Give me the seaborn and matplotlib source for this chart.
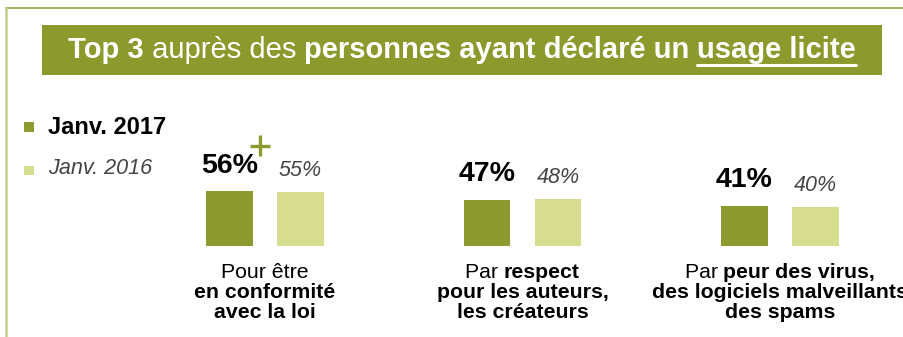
import matplotlib
matplotlib.use("Agg")
import matplotlib.pyplot as plt
from matplotlib.lines import Line2D
from matplotlib.patches import Rectangle
import pandas as pd
import seaborn as sns

# ---- data -------------------------------------------------------------
categories = ["Conformité", "Respect", "Virus"]
series = ["Janv. 2017", "Janv. 2016"]
values_2017 = [56, 47, 41]
values_2016 = [55, 48, 40]

cat_lines = [
    [[("Pour être", "normal")],
     [("en conformité", "bold")],
     [("avec la loi", "bold")]],
    [[("Par ", "normal"), ("respect", "bold")],
     [("pour les auteurs,", "bold")],
     [("les créateurs", "bold")]],
    [[("Par ", "normal"), ("peur des virus,", "bold")],
     [("des logiciels malveillants", "bold")],
     [("des spams", "bold")]],
]

title_runs = [("Top 3", "bold", False), (" auprès des ", "normal", False),
              ("personnes ayant déclaré un ", "bold", False),
              ("usage licite", "bold", True)]

# ---- style ------------------------------------------------------------
DARK = "#8d9a2f"
LIGHT = "#d6dd8f"
BANNER = "#8c9a2d"
FRAME_TOP = "#93a23a"
FRAME_LEFT = "#c4cf8c"
GREY = "#444444"

sns.set_theme(style="white")
plt.rcParams["font.family"] = ["Liberation Sans", "DejaVu Sans"]

W, H = 904, 337
fig = plt.figure(figsize=(W / 100, H / 100), dpi=100)
fig.patch.set_facecolor("white")


def fx(px):
    return px / W


def fy(py):
    return 1 - py / H


# ---- bars -------------------------------------------------------------
df = pd.DataFrame({
    "cat": categories * 2,
    "serie": [series[0]] * 3 + [series[1]] * 3,
    "val": values_2017 + values_2016,
})

ax = fig.add_axes([0, 0, 1, 1])
sns.barplot(data=df, x="cat", y="val", hue="serie", order=categories,
            hue_order=series, palette=[DARK, LIGHT], width=0.552, gap=0.35,
            saturation=1, legend=False, ax=ax, linewidth=0)

# pixel mapping: group 0 centred at x=265 px, groups 257.5 px apart;
# baseline at y=245.7 px, 0.973 px per percentage point
X0, DX = 265.0, 257.5
Y0, DY = 245.7, 0.973
ax.set_xlim(-X0 / DX, (W - X0) / DX)
ax.set_ylim(-(H - Y0) / DY, Y0 / DY)
ax.axis("off")

off = 0.552 / 4
for i in range(len(categories)):
    v17, v16 = values_2017[i], values_2016[i]
    ax.text(i - off, v17 + 18.5 / DY, f"{v17}%", ha="center", va="baseline",
            fontsize=20.5, fontweight="bold", color="black")
    ax.text(i + off, v16 + 15.8 / DY, f"{v16}%", ha="center", va="baseline",
            fontsize=15.5, fontstyle="italic", color=GREY)

# significant increase marker next to the first value
pcx, pcy, arm = 260, 145.5, 10.5
for (x1, y1, x2, y2) in [(pcx - arm, pcy, pcx + arm, pcy),
                         (pcx, pcy - arm, pcx, pcy + arm)]:
    fig.add_artist(Line2D([fx(x1), fx(x2)], [fy(y1), fy(y2)],
                          color=DARK, lw=2.4, solid_capstyle="butt"))

# ---- frame ------------------------------------------------------------
fig.add_artist(Line2D([fx(6), fx(W)], [fy(8), fy(8)], color=FRAME_TOP, lw=1.2))
fig.add_artist(Line2D([fx(6.5), fx(6.5)], [fy(8), fy(H)], color=FRAME_LEFT, lw=1.8))

# ---- title banner -----------------------------------------------------
fig.add_artist(Rectangle((fx(42), fy(75)), fx(882) - fx(42), fy(25) - fy(75),
                         transform=fig.transFigure, facecolor=BANNER,
                         edgecolor="none"))

renderer = fig.canvas.get_renderer()


def rich_line(cx, cy, runs, size, color, ul_gap=13):
    """Lay out runs of differently weighted text centred on (cx, cy) px."""
    texts = []
    for run in runs:
        txt, weight = run[0], run[1]
        t = fig.text(0, 0, txt, fontsize=size, fontweight=weight,
                     color=color, va="center", ha="left")
        texts.append((t, run))
    widths = [t.get_window_extent(renderer).width for t, _ in texts]
    x = cx - sum(widths) / 2
    for (t, run), w in zip(texts, widths):
        t.set_position((fx(x), fy(cy)))
        if len(run) > 2 and run[2]:
            fig.add_artist(Line2D([fx(x), fx(x + w)],
                                  [fy(cy + ul_gap), fy(cy + ul_gap)],
                                  color=color, lw=2.2))
        x += w


rich_line(462, 50, title_runs, 21, "white", ul_gap=15)

# ---- category labels --------------------------------------------------
line_y = [272, 292.5, 312.5]
for i, lines in enumerate(cat_lines):
    cx = X0 + DX * i
    for ly, runs in zip(line_y, lines):
        rich_line(cx, ly, runs, 15.3, "black")

# ---- legend -----------------------------------------------------------
fig.add_artist(Rectangle((fx(24), fy(132)), fx(9.5), 9.5 / H,
                         transform=fig.transFigure, facecolor=DARK,
                         edgecolor="none"))
fig.add_artist(Rectangle((fx(24), fy(175)), fx(9.5), 9.5 / H,
                         transform=fig.transFigure, facecolor=LIGHT,
                         edgecolor="none"))
fig.text(fx(48), fy(127), series[0], fontsize=17, fontweight="bold",
         color="black", va="center", ha="left")
fig.text(fx(48), fy(169), series[1], fontsize=15.6, fontstyle="italic",
         color=GREY, va="center", ha="left")

fig.savefig("out.png", dpi=100, facecolor="white")
